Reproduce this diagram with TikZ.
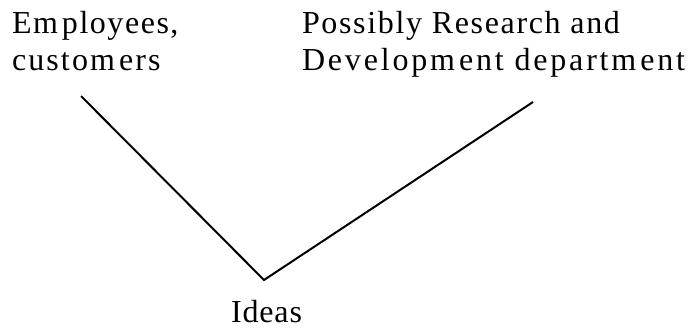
\documentclass[tikz,border=0pt]{standalone}
\usepackage{fontspec}
\setmainfont{Liberation Serif}
\newfontfamily\labfont{Liberation Serif}
\newcommand{\spc}[2]{{\addfontfeature{LetterSpace=#1}#2}}
\begin{document}
\begin{tikzpicture}[x=1bp,y=-1bp,
  lab/.style={inner sep=0pt,outer sep=0pt,align=left,anchor=base west,
    font=\labfont\fontsize{32bp}{37bp}\selectfont},
  word/.style={inner sep=0pt,outer sep=0pt,anchor=base west,
    font=\labfont\fontsize{32bp}{37bp}\selectfont},
  link/.style={line width=2bp,black}]
\useasboundingbox (0,0) rectangle (691,327);
\node[lab] (emp) at (12,70) {\spc{4.8}{Em\kern4bp ployees,}\\\spc{6.6}{custom\kern4bp ers}};
\node[lab] (rnd) at (302,70) {\spc{5.2}{Possibly Research and}\\\spc{8.8}{Developm\kern4bp ent departm\kern4bp ent}};
\node[word] (ideas) at (231,322) {\spc{2.7}{Ideas}};
\coordinate (a) at (81,96);
\coordinate (v) at (264,280);
\coordinate (b) at (533,102);
\draw[link] (a) -- (v) -- (b);
\end{tikzpicture}
\end{document}
